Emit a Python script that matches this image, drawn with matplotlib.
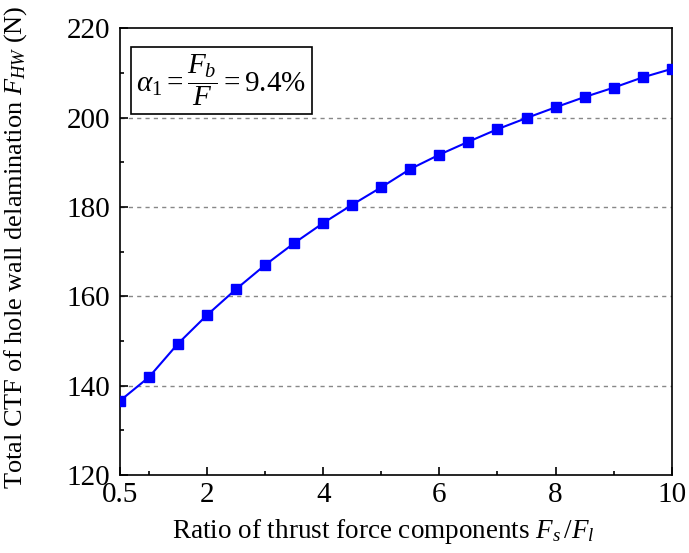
import matplotlib
matplotlib.use("Agg")
import matplotlib.pyplot as plt
from matplotlib.ticker import MultipleLocator, FixedLocator

ratio = [0.5, 1.0, 1.5, 2.0, 2.5, 3.0, 3.5, 4.0, 4.5, 5.0,
         5.5, 6.0, 6.5, 7.0, 7.5, 8.0, 8.5, 9.0, 9.5, 10.0]
ctf = [136.6, 141.9, 149.4, 155.8, 161.6, 167.0, 171.9, 176.4, 180.5, 184.4,
       188.5, 191.7, 194.6, 197.4, 199.9, 202.3, 204.6, 206.7, 209.0, 210.9]
xticks = [0.5, 2, 4, 6, 8, 10]
xtick_labels = ["0.5", "2", "4", "6", "8", "10"]
yticks = [120, 140, 160, 180, 200, 220]

plt.rcParams['font.family'] = ['Liberation Serif', 'DejaVu Serif']
plt.rcParams['mathtext.fontset'] = 'custom'
plt.rcParams['mathtext.rm'] = 'Liberation Serif'
plt.rcParams['mathtext.it'] = 'Liberation Serif:italic'
plt.rcParams['mathtext.bf'] = 'Liberation Serif:bold'

fig = plt.figure(figsize=(6.89, 5.53), dpi=100)
ax = fig.add_axes([0.174, 0.141, 0.801, 0.808])

ax.plot(ratio, ctf, color='#0000ff', lw=1.5, marker='s', markersize=7.5,
        markerfacecolor='#0000ff', markeredgecolor='#0000ff', zorder=3)

ax.set_xlim(0.5, 10)
ax.set_ylim(120, 220)
ax.set_xticks(xticks)
ax.set_xticklabels(xtick_labels)
ax.xaxis.set_minor_locator(FixedLocator([1, 3, 5, 7, 9]))
ax.set_yticks(yticks)
ax.yaxis.set_minor_locator(MultipleLocator(10))

for y in [140, 160, 180, 200]:
    ax.axhline(y, color='#888888', lw=1.0, ls=(0, (3, 3)), zorder=1)

ax.tick_params(which='both', direction='in', top=False, right=False,
               labelsize=21, width=1.2)
ax.tick_params(which='major', length=6)
ax.tick_params(which='minor', length=3)
ax.tick_params(axis='x', pad=5)
ax.tick_params(axis='y', pad=7)
for s in ax.spines.values():
    s.set_linewidth(1.2)

ax.set_xlabel(r'Ratio of thrust force components $F_s\,/F_l$', fontsize=19.5)
ax.xaxis.set_label_coords(0.477, -0.095)
ax.set_ylabel(r'Total CTF of hole wall delamination $F_{HW}$ (N)', fontsize=19)
ax.yaxis.set_label_coords(-0.165, 0.51)

ax.text(0.03, 0.945, r'$\alpha_1=\dfrac{F_b}{F}=9.4\%$', transform=ax.transAxes,
        fontsize=21, va='top', ha='left',
        bbox=dict(boxstyle='square,pad=0.2', facecolor='white', edgecolor='black', lw=1.2))

fig.savefig('out.png', dpi=100)
